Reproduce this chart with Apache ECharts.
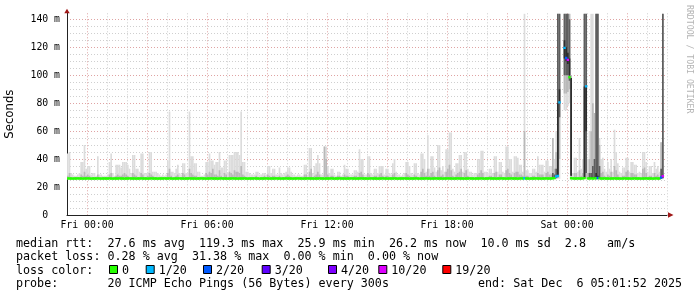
<!DOCTYPE html>
<html><head><meta charset="utf-8">
<script src="https://cdn.jsdelivr.net/npm/echarts@6/dist/echarts.min.js"></script>
<style>html,body{margin:0;padding:0;background:#fff}#c{width:697px;height:297px}</style>
</head><body><div id="c"></div>
<script>
// ---- data ----
const stepMinutes = 5;
const firstStepEnd = -55;          // minutes relative to Fri 00:00
const axisStartMin = -60, axisEndMin = 1740;
const yMaxMs = 144.3;
const smokeFloorMs = 25.6;
const xTickMinutes = [0, 360, 720, 1080, 1440];
const xTickLabels = ['Fri 00:00', 'Fri 06:00', 'Fri 12:00', 'Fri 18:00', 'Sat 00:00'];
const yLabelEvery = 20;

const medianMs = [
26.2,26.1,26.1,26.0,26.1,26.1,26.2,26.1,26.1,26.0,
26.1,26.1,26.2,26.1,26.0,26.1,26.1,26.1,26.2,26.1,
26.0,26.1,26.1,26.1,26.1,26.2,26.1,26.0,26.1,26.1,
26.1,26.2,26.1,26.1,26.0,26.1,26.1,26.2,26.1,26.1,
26.1,26.0,26.1,26.1,26.2,26.1,26.1,26.1,26.0,26.1,
26.2,26.1,26.1,26.1,26.0,26.1,26.1,26.1,26.2,26.1,
26.1,26.2,26.1,26.0,26.1,26.1,26.1,26.2,26.1,26.1,
26.0,26.1,26.1,26.2,26.1,26.1,26.1,26.0,26.1,26.1,
26.2,26.1,26.1,26.0,26.1,26.1,26.2,26.1,26.1,26.1,
26.0,26.1,26.2,26.1,26.1,26.1,26.0,26.1,26.1,26.2,
26.1,26.1,26.0,26.1,26.1,26.1,26.2,26.1,26.0,26.1,
26.1,26.1,26.2,26.1,26.1,26.0,26.1,26.1,26.1,26.2,
26.1,26.0,26.1,26.1,26.1,26.2,26.1,26.1,26.0,26.1,
26.1,26.2,26.1,26.1,26.1,26.0,26.1,26.1,26.2,26.1,
26.1,26.0,26.1,26.1,26.2,26.1,26.1,26.1,26.0,26.1,
26.1,26.2,26.1,26.1,26.0,26.1,26.1,26.1,26.2,26.1,
26.0,26.1,26.1,26.2,26.1,26.1,26.1,26.0,26.1,26.1,
26.2,26.1,26.1,26.0,26.1,26.1,26.2,26.1,26.1,26.1,
26.0,26.1,26.2,26.1,26.1,26.1,26.0,26.1,26.1,26.2,
26.1,26.1,26.0,26.1,26.1,26.1,26.2,26.1,26.0,26.1,
26.1,26.1,26.2,26.1,26.1,26.0,26.1,26.1,26.1,26.2,
26.1,26.0,26.1,26.1,26.1,26.2,26.1,26.1,26.0,26.1,
26.1,26.2,26.1,26.1,26.1,26.0,26.1,26.1,26.2,26.1,
26.1,26.0,26.1,26.1,26.2,26.1,26.1,26.1,26.0,26.1,
26.1,26.2,26.1,26.1,26.0,26.1,26.1,26.1,26.2,26.1,
26.0,26.1,26.1,26.2,26.1,26.1,26.1,26.0,26.1,26.1,
26.2,26.1,26.1,26.0,26.1,26.1,26.2,26.1,26.1,26.1,
26.0,26.1,26.2,26.1,26.3,26.1,26.1,26.0,26.1,26.1,
26.1,26.2,26.1,26.1,26.0,26.1,26.1,26.2,26.1,26.1,
26.1,26.3,26.4,27.5,28.0,80.6,null,null,119.6,112.3,
111.0,98.5,26.3,26.2,26.1,26.1,26.2,26.1,26.1,26.2,
26.4,92.0,26.2,26.1,26.2,26.1,26.2,26.3,26.5,26.2,
26.1,26.1,26.2,26.1,26.1,26.0,26.1,26.1,26.2,26.1,
26.1,26.1,26.0,26.1,26.2,26.1,26.1,26.1,26.0,26.1,
26.2,26.1,26.1,26.1,26.0,26.1,26.1,26.2,26.1,26.1,
26.1,26.0,26.1,26.2,26.1,26.1,26.8,27.8,null,null
];

// highest ping of each step (outer, lightest smoke)
const smokeTopMs = [
44,45,30,29,28,28,29,30,38,38, 50,33,35,35,29,30,30,28,42,29,
29,28,28,28,29,38,44,30,28,36, 36,36,34,38,38,38,36,33,30,43,
43,33,33,31,44,44,30,30,31,45, 45,31,31,31,30,29,28,29,28,29,
39,74,31,31,30,33,36,30,29,37, 37,30,30,74,42,42,37,37,31,31,
28,28,29,38,38,44,39,39,36,38, 38,45,34,34,39,39,30,43,43,43,
45,45,45,43,74,38,38,31,31,30, 29,29,29,31,31,29,29,30,30,29,
35,35,30,33,33,29,29,34,30,29, 30,31,34,34,31,29,29,28,29,29,
28,28,36,36,29,48,48,30,35,37, 43,37,29,29,49,49,35,30,33,33,
29,28,31,31,28,29,36,33,33,29, 29,29,32,32,31,47,40,40,29,29,
42,42,30,29,33,33,30,35,35,35, 29,33,33,30,29,37,40,31,29,29,
28,29,30,38,38,35,30,29,37,37, 30,29,44,44,40,31,57,33,42,42,
34,31,50,50,32,35,31,47,47,59, 59,33,31,37,37,43,43,31,45,45,
33,31,31,29,30,30,40,40,46,46, 31,31,30,33,33,30,42,42,31,38,
38,31,30,49,49,40,40,31,42,42, 41,36,36,31,144,32,32,30,30,33,
33,31,42,36,36,36,31,39,39,35, 35,55,40,60,144,144,null,null,144,144,
144,144,100,30,41,41,31,55,33,40, 144,144,40,60,144,144,73,144,144,55,
40,41,33,31,38,33,40,31,61,45, 37,31,30,34,34,41,41,31,38,38,
36,36,30,31,30,45,45,38,31,35, 35,30,38,33,35,31,52,144,null,null
];

// top of the middle grey smoke band
const midTopMs = [
28,30,27,27,27,27,27,27,29,28, 31,28,29,28,27,27,27,27,29,27,
27,27,27,27,27,29,30,27,27,28, 29,28,28,29,30,29,28,27,27,30,
29,28,27,27,30,29,27,27,28,30, 29,28,27,27,27,27,27,27,27,27,
30,33,28,27,27,28,29,27,27,30, 29,27,27,33,30,29,28,28,27,27,
27,27,27,30,29,31,30,33,29,29, 28,32,28,27,30,29,27,31,30,29,
32,31,31,30,35,29,28,27,27,27, 27,27,27,28,27,27,27,27,28,27,
29,28,27,28,28,27,27,28,27,27, 27,28,29,28,27,27,27,27,27,27,
27,27,29,29,27,31,33,27,28,29, 31,29,27,27,49,40,29,27,28,28,
27,27,28,28,27,27,29,28,28,27, 27,27,28,28,27,30,31,29,27,27,
30,29,27,27,28,28,27,29,30,28, 27,28,28,27,27,29,30,27,27,27,
27,27,27,30,29,28,27,27,29,28, 27,27,31,33,30,28,33,28,30,31,
28,27,32,34,28,29,27,31,33,36, 32,28,27,29,30,31,33,27,30,32,
28,27,27,27,27,27,29,30,32,30, 27,27,27,28,28,27,30,31,27,29,
29,27,27,32,33,30,29,27,30,31, 31,29,29,28,60,28,28,27,27,28,
28,27,30,29,29,29,27,30,31,29, 29,55,33,40,144,144,null,null,144,144,
144,144,98,27,30,30,27,32,28,30, 144,144,30,40,80,80,73,144,144,50,
30,31,28,27,29,28,31,27,35,32, 29,27,27,28,28,31,32,27,30,30,
29,29,27,27,27,33,34,30,27,28, 28,27,30,28,29,27,52,144,null,null
];

// steps with lost pings: [step, lost pings of 20]
const lossSteps = [[274,1],[293,1],[294,1],[295,1],[298,1],[299,2],[300,10],[311,1],[318,2],[356,2],[357,10]];

// steps with a wide ping spread: [step, lo1, lo2, lo3, lo4, hi4, hi3, hi2, hi1]
const spreadSteps = [
[291,25.6,25.8,26.0,26.1,26.6,30,55,55],
[292,25.6,25.8,26.0,26.2,26.8,29,33,40],
[293,25.6,26.0,26.5,27.0,28.0,33,45,60],
[294,25.8,26.5,27.0,28.0,80.0,144,144,144],
[295,26.0,40,70,80,90,144,144,144],
[298,75,87,100,112,125,144,144,144],
[299,75,87,100,110,120,144,144,144],
[300,78,88,100,108,116,144,144,144],
[301,80,90,96,100,112,140,144,144],
[302,26,27,28,28,98,98,100,100],
[310,25.6,26,26.5,27,92,144,144,144],
[311,26,27,30,60,92,144,144,144],
[313,25.6,26,26.2,26.4,26.8,30,40,60],
[314,25.6,26,26.2,26.4,27,30,60,144],
[315,25.6,26,26.2,26.4,27,35,80,144],
[316,25.6,26,26.2,26.4,27,40,73,73],
[317,25.6,26,26.5,27,30,144,144,144],
[318,25.6,26,26.5,27,28,144,144,144],
[319,25.6,26,26.2,26.4,27,35,50,55],
[356,25.6,26,26.2,26.5,27,33,52,52],
[357,25.6,26,26.5,27,28,144,144,144]
];

const lossLegendCounts = [0, 1, 2, 3, 4, 10, 19];
const lossLegendLabels = ['0', '1/20', '2/20', '3/20', '4/20', '10/20', '19/20'];
const lossColors = ['#26ff00', '#00b8ff', '#0059ff', '#5e00ff', '#7e00ff', '#dd00ff', '#ff0000'];

const statLines = [
  'median rtt:  27.6 ms avg  119.3 ms max  25.9 ms min  26.2 ms now  10.0 ms sd  2.8   am/s',
  'packet loss: 0.28 % avg  31.38 % max  0.00 % min  0.00 % now'
];
const lossTitle = 'loss color:';
const probeLine = 'probe:       20 ICMP Echo Pings (56 Bytes) every 300s';
const endLine = 'end: Sat Dec  6 05:01:52 2025';
const yTitle = 'Seconds';
const watermark = 'RRDTOOL / TOBI OETIKER';

// ---- build ----
const N = medianMs.length;
const spreadMap = {};
spreadSteps.forEach(s => { spreadMap[s[0]] = s; });
const lossMap = {};
lossSteps.forEach(s => { lossMap[s[0]] = s[1]; });
const layerColors = ['#dcdcdc', '#b9b9b9', '#5e5e5e', '#2e2e2e'];
const layers = [[], [], [], []];
const medianData = [];
function colorIndex(loss) {
  let k = 0;
  for (let j = 0; j < lossLegendCounts.length; j++) if (loss >= lossLegendCounts[j]) k = j;
  return k;
}
for (let i = 0; i < N; i++) {
  const x1 = firstStepEnd + i * stepMinutes, x0 = x1 - stepMinutes;
  const sp = spreadMap[i];
  if (sp) {
    for (let k = 0; k < 4; k++) layers[k].push([x0, x1, sp[1 + k], sp[8 - k]]);
  } else if (smokeTopMs[i] != null) {
    layers[0].push([x0, x1, smokeFloorMs, smokeTopMs[i]]);
    layers[1].push([x0, x1, smokeFloorMs, midTopMs[i]]);
  }
  if (medianMs[i] != null) medianData.push([x0, x1, medianMs[i], colorIndex(lossMap[i] || 0)]);
}

function rectRender(color) {
  return function (params, api) {
    const a = api.coord([api.value(0), api.value(3)]);
    const b = api.coord([api.value(1), api.value(2)]);
    return { type: 'rect', shape: { x: a[0], y: a[1], width: b[0] - a[0], height: b[1] - a[1] },
      style: { fill: color } };
  };
}

const monoFont = 'DejaVu Sans Mono';
const minorGrid = '#cfcfcf', majorGrid = '#dfa3a3';

const series = layers.map((data, k) => ({
  type: 'custom', data: data, clip: true, z: 2 + k, silent: true,
  encode: { x: [0, 1], y: [2, 3] },
  renderItem: rectRender(layerColors[k])
}));
series.push({
  type: 'custom', data: medianData, clip: true, z: 10, silent: true,
  encode: { x: [0, 1], y: [2] },
  renderItem: function (params, api) {
    const a = api.coord([api.value(0), api.value(2)]);
    const b = api.coord([api.value(1), api.value(2)]);
    const h = 2.4;
    return { type: 'rect', shape: { x: a[0] - 0.4, y: a[1] - h / 2, width: b[0] - a[0] + 0.8, height: h },
      style: { fill: lossColors[api.value(3)] } };
  }
});

const chart = echarts.init(document.getElementById('c'), null, { renderer: 'canvas' });
chart.setOption({
  animation: false,
  backgroundColor: '#ffffff',
  grid: { left: 67, right: 30, top: 13.3, bottom: 82, containLabel: false, outerBoundsMode: 'none' },
  xAxis: {
    type: 'value', min: axisStartMin, max: axisEndMin, interval: 60,
    axisLine: { show: true, onZero: false, lineStyle: { color: '#222', width: 1 } },
    axisTick: { show: false },
    axisLabel: {
      color: '#000', fontFamily: monoFont, fontSize: 9.8, margin: 5, showMinLabel: true, showMaxLabel: true,
      formatter: v => { const k = xTickMinutes.indexOf(v); return k >= 0 ? xTickLabels[k] : ''; }
    },
    splitLine: { show: true, lineStyle: { color: [minorGrid, majorGrid, minorGrid], width: 1, type: [1, 2] } }
  },
  yAxis: {
    type: 'value', min: 0, max: yMaxMs, interval: 5,
    name: yTitle, nameLocation: 'middle', nameRotate: 90, nameGap: 51,
    nameTextStyle: { fontFamily: 'DejaVu Sans', fontSize: 11.7, color: '#000' },
    axisLine: { show: true, onZero: false, lineStyle: { color: '#222', width: 1 } },
    axisTick: { show: false },
    axisLabel: {
      color: '#000', fontFamily: monoFont, fontSize: 9.8, margin: 7,
      formatter: v => (v % yLabelEvery === 0 ? (v === 0 ? '0  ' : v + ' m') : '')
    },
    splitLine: { show: true, showMaxLine: false,
      lineStyle: { color: [majorGrid, minorGrid, minorGrid, minorGrid], width: 1, type: [1, 2] } }
  },
  series: series
});

// ---- decorations & legend ----
const pRight = chart.convertToPixel({ gridIndex: 0 }, [axisEndMin, 0]);
const pTop = chart.convertToPixel({ gridIndex: 0 }, [axisStartMin, yMaxMs]);
const arrowColor = '#a01818';
const g = [];
g.push({ type: 'polygon', shape: { points: [[pRight[0] + 1, pRight[1] - 2.7], [pRight[0] + 1, pRight[1] + 2.7], [pRight[0] + 6.5, pRight[1]]] }, style: { fill: arrowColor }, z: 20 });
g.push({ type: 'polygon', shape: { points: [[pTop[0] - 2.7, pTop[1]], [pTop[0] + 2.7, pTop[1]], [pTop[0], pTop[1] - 4.5]] }, style: { fill: arrowColor }, z: 20 });
g.push({ type: 'text', x: 689, y: 5, rotation: -Math.PI / 2,
  style: { text: watermark, font: '8.2px "DejaVu Sans Mono"', fill: '#b4b4b4', textAlign: 'left', textVerticalAlign: 'middle' } });
const legendFont = '11.7px "DejaVu Sans Mono"';
const lineY = [243.5, 257, 271, 284.3];
statLines.forEach((t, k) => g.push({ type: 'text', x: 16, y: lineY[k],
  style: { text: t, font: legendFont, fill: '#000', textVerticalAlign: 'middle' } }));
g.push({ type: 'text', x: 16, y: lineY[2], style: { text: lossTitle, font: legendFont, fill: '#000', textVerticalAlign: 'middle' } });
const boxX = [109, 145.7, 203, 261.7, 328, 378.3, 442.3];
lossLegendLabels.forEach((lab, k) => {
  g.push({ type: 'rect', shape: { x: boxX[k] + 0.5, y: 265.5, width: 8, height: 8 },
    style: { fill: lossColors[k], stroke: '#000', lineWidth: 1 } });
  g.push({ type: 'text', x: boxX[k] + 13, y: lineY[2],
    style: { text: lab, font: legendFont, fill: '#000', textVerticalAlign: 'middle' } });
});
g.push({ type: 'text', x: 16, y: lineY[3], style: { text: probeLine, font: legendFont, fill: '#000', textVerticalAlign: 'middle' } });
g.push({ type: 'text', x: 478, y: lineY[3], style: { text: endLine, font: legendFont, fill: '#000', textVerticalAlign: 'middle' } });
chart.setOption({ graphic: g });
</script></body></html>
